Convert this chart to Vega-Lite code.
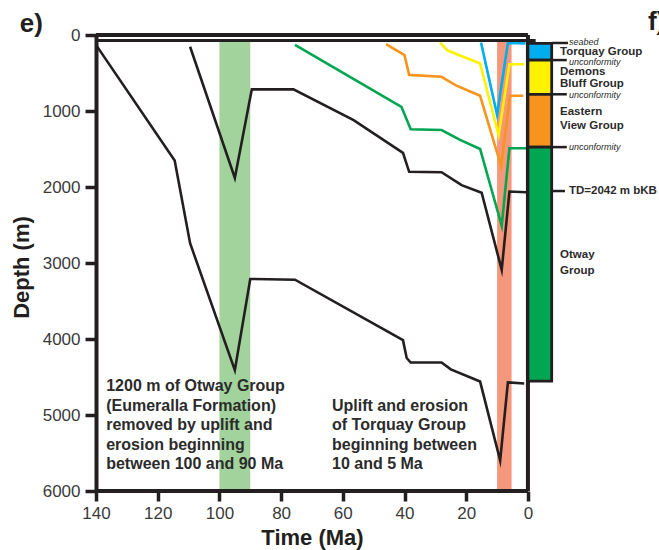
{
  "$schema": "https://vega.github.io/schema/vega-lite/v6.json",
  "width": 456,
  "height": 456,
  "autosize": {"type": "none"},
  "padding": {"left": 96, "top": 35, "right": 107, "bottom": 59},
  "background": "white",
  "config": {"view": {"stroke": null}, "font": "Liberation Sans"},
  "encoding": {
    "x": {
      "field": "t", "type": "quantitative",
      "scale": {"domain": [-7.8, 140], "reverse": true, "nice": false, "zero": false},
      "axis": {
        "values": [140, 120, 100, 80, 60, 40, 20, 0], "format": "d",
        "domain": false, "grid": false,
        "tickSize": 10, "tickWidth": 3.5, "tickColor": "#231f20",
        "labelFontSize": 17, "labelColor": "#3a3a3a", "labelPadding": 4, "labelFlush": false,
        "title": "Time (Ma)", "titleFontSize": 22, "titleFontWeight": "bold", "titleColor": "#231f20",
        "titleX": 216, "titleY": 53, "titleBaseline": "alphabetic", "titleAlign": "center"
      }
    },
    "y": {
      "field": "d", "type": "quantitative",
      "scale": {"domain": [0, 6000], "reverse": true, "nice": false},
      "axis": {
        "values": [0, 1000, 2000, 3000, 4000, 5000, 6000], "format": "d",
        "domain": true, "domainWidth": 4, "domainColor": "#231f20", "grid": false,
        "tickSize": 11, "tickWidth": 3.5, "tickColor": "#231f20",
        "labelFontSize": 17, "labelColor": "#3a3a3a", "labelPadding": 5, "labelFlush": false,
        "title": "Depth (m)", "titleFontSize": 22, "titleFontWeight": "bold", "titleColor": "#231f20",
        "titleX": -68, "titleY": 232, "titleBaseline": "alphabetic", "titleAlign": "center", "titleAngle": 270
      }
    }
  },
  "layer": [
    {
      "data": {"values": [
        {"k": "band1", "t": 100, "t2": 90, "d": 75, "d2": 6000},
        {"k": "band2", "t": 10, "t2": 5.3, "d": 75, "d2": 6000}
      ]},
      "mark": {"type": "rect"},
      "encoding": {
        "x2": {"field": "t2"},
        "y2": {"field": "d2"},
        "color": {"field": "k", "type": "nominal", "legend": null,
          "scale": {"domain": ["A","B","G","O","Y","C","band1","band2","Torquay","Demons","Eastern","Otway"],
                    "range": ["#231f20","#231f20","#00a651","#f7941d","#fff200","#00aeef","#a3d39c","#f5977a","#00aeef","#fff200","#f7941d","#00a651"]}}
      }
    },
    {
      "data": {"values": [
        {"s": "A", "i": 0, "t": 140, "d": 130},
        {"s": "A", "i": 1, "t": 114.5, "d": 1650},
        {"s": "A", "i": 2, "t": 109.5, "d": 2740},
        {"s": "A", "i": 3, "t": 95, "d": 4410},
        {"s": "A", "i": 4, "t": 90, "d": 3210},
        {"s": "A", "i": 5, "t": 75.5, "d": 3220},
        {"s": "A", "i": 6, "t": 40.5, "d": 4015},
        {"s": "A", "i": 7, "t": 39.3, "d": 4250},
        {"s": "A", "i": 8, "t": 38, "d": 4310},
        {"s": "A", "i": 9, "t": 28, "d": 4310},
        {"s": "A", "i": 10, "t": 25, "d": 4400},
        {"s": "A", "i": 11, "t": 15.5, "d": 4560},
        {"s": "A", "i": 12, "t": 9, "d": 5600},
        {"s": "A", "i": 13, "t": 6.5, "d": 4570},
        {"s": "A", "i": 14, "t": 1.2, "d": 4585},
        {"s": "B", "i": 0, "t": 109.5, "d": 155},
        {"s": "B", "i": 1, "t": 95, "d": 1880},
        {"s": "B", "i": 2, "t": 89.5, "d": 715},
        {"s": "B", "i": 3, "t": 76, "d": 715},
        {"s": "B", "i": 4, "t": 56.5, "d": 1120},
        {"s": "B", "i": 5, "t": 40.5, "d": 1550},
        {"s": "B", "i": 6, "t": 38.5, "d": 1800},
        {"s": "B", "i": 7, "t": 28, "d": 1805},
        {"s": "B", "i": 8, "t": 21.5, "d": 1975},
        {"s": "B", "i": 9, "t": 15, "d": 2075},
        {"s": "B", "i": 10, "t": 8.5, "d": 3090},
        {"s": "B", "i": 11, "t": 6, "d": 2060},
        {"s": "B", "i": 12, "t": 0.5, "d": 2070},
        {"s": "G", "i": 0, "t": 75.5, "d": 130},
        {"s": "G", "i": 1, "t": 41, "d": 945},
        {"s": "G", "i": 2, "t": 38, "d": 1240},
        {"s": "G", "i": 3, "t": 28, "d": 1250},
        {"s": "G", "i": 4, "t": 22, "d": 1380},
        {"s": "G", "i": 5, "t": 15.5, "d": 1500},
        {"s": "G", "i": 6, "t": 8.5, "d": 2510},
        {"s": "G", "i": 7, "t": 6, "d": 1490},
        {"s": "G", "i": 8, "t": 0.5, "d": 1490},
        {"s": "O", "i": 0, "t": 46, "d": 120},
        {"s": "O", "i": 1, "t": 40, "d": 265},
        {"s": "O", "i": 2, "t": 38.5, "d": 525},
        {"s": "O", "i": 3, "t": 28, "d": 550},
        {"s": "O", "i": 4, "t": 23.5, "d": 660},
        {"s": "O", "i": 5, "t": 15.5, "d": 800},
        {"s": "O", "i": 6, "t": 8.7, "d": 1725},
        {"s": "O", "i": 7, "t": 5.8, "d": 800},
        {"s": "O", "i": 8, "t": 1.5, "d": 800},
        {"s": "Y", "i": 0, "t": 28.5, "d": 100},
        {"s": "Y", "i": 1, "t": 26, "d": 205},
        {"s": "Y", "i": 2, "t": 15.5, "d": 375},
        {"s": "Y", "i": 3, "t": 9.5, "d": 1320},
        {"s": "Y", "i": 4, "t": 6, "d": 385},
        {"s": "Y", "i": 5, "t": 1.2, "d": 385},
        {"s": "C", "i": 0, "t": 15.2, "d": 100},
        {"s": "C", "i": 1, "t": 10, "d": 1050},
        {"s": "C", "i": 2, "t": 6.5, "d": 105},
        {"s": "C", "i": 3, "t": 0.8, "d": 110}
      ]},
      "mark": {"type": "line", "strokeWidth": 2.6, "strokeJoin": "miter", "strokeMiterLimit": 10},
      "encoding": {
        "order": {"field": "i", "type": "quantitative"},
        "color": {"field": "s", "type": "nominal", "legend": null,
          "scale": {"domain": ["A","B","G","O","Y","C","band1","band2","Torquay","Demons","Eastern","Otway"],
                    "range": ["#231f20","#231f20","#00a651","#f7941d","#fff200","#00aeef","#a3d39c","#f5977a","#00aeef","#fff200","#f7941d","#00a651"]}}
      }
    },
    {
      "data": {"values": [
        {"t": 140, "t2": 0, "d": 0, "d2": 0},
        {"t": 140, "t2": 0, "d": 6000, "d2": 6000},
        {"t": 0, "t2": 0, "d": 0, "d2": 6000}
      ]},
      "mark": {"type": "rule", "strokeWidth": 4, "color": "#231f20"},
      "encoding": {"x2": {"field": "t2"}, "y2": {"field": "d2"}}
    },
    {
      "data": {"values": [
        {"t": 140, "t2": -2.5, "d": 72, "d2": 72}
      ]},
      "mark": {"type": "rule", "strokeWidth": 3, "color": "#231f20"},
      "encoding": {"x2": {"field": "t2"}, "y2": {"field": "d2"}}
    },
    {
      "data": {"values": [
        {"u": "Torquay", "t": 0, "t2": -7.7, "d": 110, "d2": 330},
        {"u": "Demons", "t": 0, "t2": -7.7, "d": 330, "d2": 780},
        {"u": "Eastern", "t": 0, "t2": -7.7, "d": 780, "d2": 1475},
        {"u": "Otway", "t": 0, "t2": -7.7, "d": 1475, "d2": 4555}
      ]},
      "mark": {"type": "rect", "stroke": "#231f20", "strokeWidth": 2.8},
      "encoding": {
        "x2": {"field": "t2"},
        "y2": {"field": "d2"},
        "color": {"field": "u", "type": "nominal", "legend": null,
          "scale": {"domain": ["A","B","G","O","Y","C","band1","band2","Torquay","Demons","Eastern","Otway"],
                    "range": ["#231f20","#231f20","#00a651","#f7941d","#fff200","#00aeef","#a3d39c","#f5977a","#00aeef","#fff200","#f7941d","#00a651"]}}
      }
    },
    {
      "data": {"values": [
        {"t": -7.7, "t2": -13, "d": 105, "d2": 105},
        {"t": -7.7, "t2": -12.6, "d": 330, "d2": 330},
        {"t": -7.7, "t2": -12.6, "d": 780, "d2": 780},
        {"t": -7.7, "t2": -12.6, "d": 1475, "d2": 1475},
        {"t": -7.7, "t2": -12, "d": 2053, "d2": 2053}
      ]},
      "mark": {"type": "rule", "strokeWidth": 2.5, "color": "#231f20"},
      "encoding": {"x2": {"field": "t2"}, "y2": {"field": "d2"}}
    },
    {
      "data": {"values": [
        {"label": "Torquay Group", "t": -10.4, "d": 228},
        {"label": "Demons", "t": -10.4, "d": 483},
        {"label": "Bluff Group", "t": -10.4, "d": 640},
        {"label": "Eastern", "t": -10.4, "d": 1009},
        {"label": "View Group", "t": -10.4, "d": 1193},
        {"label": "Otway", "t": -10.4, "d": 2895},
        {"label": "Group", "t": -10.4, "d": 3105}
      ]},
      "mark": {"type": "text", "align": "left", "baseline": "middle", "fontSize": 11.5, "fontWeight": "bold", "color": "#2b2b2b"},
      "encoding": {"text": {"field": "label"}}
    },
    {
      "data": {"values": [
        {"label": "seabed", "t": -13.3, "d": 92},
        {"label": "unconformity", "t": -13.3, "d": 352},
        {"label": "unconformity", "t": -13.3, "d": 785},
        {"label": "unconformity", "t": -13.3, "d": 1478}
      ]},
      "mark": {"type": "text", "align": "left", "baseline": "middle", "fontSize": 9, "fontStyle": "italic", "color": "#2b2b2b"},
      "encoding": {"text": {"field": "label"}}
    },
    {
      "data": {"values": [
        {"label": "TD=2042 m bKB", "t": -13.3, "d": 2053}
      ]},
      "mark": {"type": "text", "align": "left", "baseline": "middle", "fontSize": 11.5, "fontWeight": "bold", "color": "#2b2b2b"},
      "encoding": {"text": {"field": "label"}}
    },
    {
      "data": {"values": [
        {"label": "1200 m of Otway Group\n(Eumeralla Formation)\nremoved by uplift and\nerosion beginning\nbetween 100 and 90 Ma", "t": 136.7, "d": 4685},
        {"label": "Uplift and erosion\nof Torquay Group\nbeginning between\n10 and 5 Ma", "t": 63.5, "d": 4947}
      ]},
      "mark": {"type": "text", "align": "left", "baseline": "alphabetic", "fontSize": 16, "fontWeight": "bold", "lineBreak": "\n", "lineHeight": 19.5, "color": "#2b2b2b"},
      "encoding": {"text": {"field": "label"}}
    },
    {
      "data": {"values": [
        {"label": "e)", "t": 164.7, "d": -40},
        {"label": "f)", "t": -38.9, "d": -70}
      ]},
      "mark": {"type": "text", "align": "left", "baseline": "alphabetic", "fontSize": 26, "fontWeight": "bold", "color": "#231f20"},
      "encoding": {"text": {"field": "label"}}
    }
  ]
}
